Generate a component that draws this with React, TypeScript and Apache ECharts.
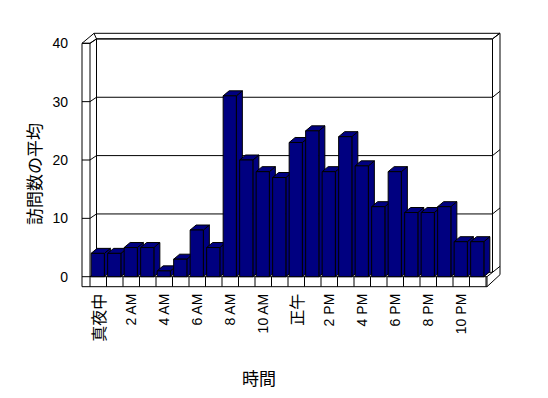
import React, { useEffect, useRef } from "react";
import * as echarts from "echarts";

const hours = [
  "真夜中", "1 AM", "2 AM", "3 AM", "4 AM", "5 AM", "6 AM", "7 AM", "8 AM", "9 AM", "10 AM", "11 AM",
  "正午", "1 PM", "2 PM", "3 PM", "4 PM", "5 PM", "6 PM", "7 PM", "8 PM", "9 PM", "10 PM", "11 PM",
];
const visits = [4, 4, 5, 5, 1, 3, 8, 5, 31, 20, 18, 17, 23, 25, 18, 24, 19, 12, 18, 11, 11, 12, 6, 6];
const yTicks = [0, 10, 20, 30, 40];
const yTitle = "訪問数の平均";
const xTitle = "時間";

const NAVY = "#000080";
const LINE = { stroke: "#000", lineWidth: 1, fill: "none" };
const DX = 6.5;
const DY = -4.4;
const BDX = 6;
const BDY = -5;

export default function App() {
  const ref = useRef<HTMLDivElement>(null);
  useEffect(() => {
    if (!ref.current) return;
    const chart = echarts.init(ref.current, null, { renderer: "svg" });
    const ln = (x1: number, y1: number, x2: number, y2: number) => ({
      type: "line",
      shape: { x1, y1, x2, y2 },
      style: LINE,
    });
    chart.setOption({
      animation: false,
      backgroundColor: "#fff",
      grid: { left: 90, right: 62, top: 43.3, bottom: 121.3 },
      xAxis: {
        type: "category",
        data: hours,
        axisLine: { show: false },
        axisTick: { show: false },
        splitLine: { show: false },
        axisLabel: {
          interval: 1,
          rotate: 90,
          margin: 17,
          color: "#000",
          fontSize: 14,
          fontFamily: "Liberation Sans",
          formatter: (v: string) => (/[^\x00-\x7F]/.test(v) ? `{c|${v}}` : v),
          rich: { c: { fontSize: 16, fontFamily: "Noto Sans CJK JP", color: "#000" } },
        },
      },
      yAxis: {
        type: "value",
        min: 0,
        max: 40,
        interval: 10,
        axisLine: { show: false },
        axisTick: { show: false },
        splitLine: { show: false },
        axisLabel: { margin: 22, color: "#000", fontSize: 14, fontFamily: "Liberation Sans" },
      },
      graphic: [
        {
          type: "text",
          x: 33,
          y: 174,
          rotation: Math.PI / 2,
          style: {
            text: yTitle,
            fontSize: 17,
            fontFamily: "Noto Sans CJK JP",
            fill: "#000",
            align: "center",
            verticalAlign: "middle",
          },
        },
        {
          type: "text",
          x: 259,
          y: 377,
          style: {
            text: xTitle,
            fontSize: 17,
            fontFamily: "Noto Sans CJK JP",
            fill: "#000",
            align: "center",
            verticalAlign: "middle",
          },
        },
      ],
      series: [
        {
          type: "custom",
          z: 1,
          clip: false,
          silent: true,
          data: [[0, 0]],
          encode: { x: 0, y: 1 },
          renderItem: (params: any, api: any) => {
            const bw = api.size([1, 0])[0];
            const L = api.coord([0, 0])[0] - bw / 2;
            const R = L + hours.length * bw;
            const B = api.coord([0, 0])[1];
            const T = api.coord([0, 40])[1];
            const children: any[] = [];
            children.push({
              type: "polygon",
              shape: {
                points: [
                  [L - 8, B + 10],
                  [L - 8, T],
                  [L + 4, T - 10],
                  [R + 14, T - 10],
                  [R + 14, B - 2],
                  [R + 1, B + 10],
                ],
              },
              style: { fill: "#fff", stroke: "#000", lineWidth: 1 },
            });
            children.push({
              type: "polyline",
              shape: {
                points: [
                  [L + DX, B + DY],
                  [L + DX, T + DY],
                  [R + DX, T + DY],
                  [R + DX, B + DY],
                ],
              },
              style: LINE,
            });
            children.push(ln(L, T, L, B + 10));
            children.push(ln(L - 8, T, L, T));
            children.push(ln(L, T, L + DX, T + DY));
            children.push(ln(L + 4, T - 10, L + DX, T + DY));
            children.push(ln(R + DX, T + DY, R + 14, T - 10));
            children.push(ln(L, B, R + 1, B));
            children.push(ln(R + 1, B, R + 1, B + 10));
            children.push(ln(R + 1, B, R + DX, B + DY));
            for (const v of yTicks) {
              const Y = api.coord([0, v])[1];
              children.push(ln(L - 8, Y, L, Y));
              children.push(ln(L, Y, L + DX, Y + DY));
              children.push(ln(L + DX, Y + DY, R + DX, Y + DY));
              children.push(ln(R + DX, Y + DY, R + 14, Y + DY - 6));
            }
            for (let i = 1; i <= hours.length; i++) {
              const x = L + i * bw;
              children.push(ln(x, B, x, B + 10));
            }
            return { type: "group", children };
          },
        },
        {
          type: "custom",
          z: 2,
          clip: false,
          data: visits.map((v, i) => [i, v]),
          encode: { x: 0, y: 1 },
          renderItem: (params: any, api: any) => {
            const idx = api.value(0);
            const top = api.coord([idx, api.value(1)]);
            const base = api.coord([idx, 0]);
            const bw = api.size([1, 0])[0];
            const w = bw * 0.8;
            const x0 = top[0] - bw / 2 + bw * 0.07;
            const x1 = x0 + w;
            const yT = top[1];
            const yB = base[1];
            const st = { fill: NAVY, stroke: "#000", lineWidth: 1 };
            return {
              type: "group",
              children: [
                {
                  type: "polygon",
                  shape: { points: [[x1, yT], [x1 + BDX, yT + BDY], [x1 + BDX, yB + BDY], [x1, yB]] },
                  style: st,
                },
                {
                  type: "polygon",
                  shape: { points: [[x0, yT], [x0 + BDX, yT + BDY], [x1 + BDX, yT + BDY], [x1, yT]] },
                  style: st,
                },
                {
                  type: "rect",
                  shape: { x: x0, y: yT, width: w, height: yB - yT },
                  style: st,
                },
              ],
            };
          },
        },
      ],
    });
    return () => chart.dispose();
  }, []);
  return <div ref={ref} style={{ width: 548, height: 398, position: "absolute", left: 0, top: 0 }} />;
}
